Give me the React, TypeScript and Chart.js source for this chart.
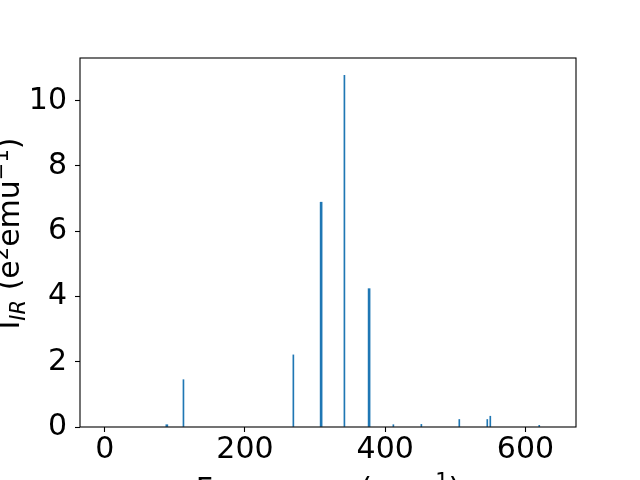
import React, { useEffect, useRef } from "react";
import { Chart, registerables } from "chart.js";

Chart.register(...registerables);

// Frequencies (cm^-1) and IR intensities
const thinFreq = [112.3, 269.0, 341.8, 411.6, 451.5, 505.6, 545.5, 549.8, 619.6];
const thinInt = [1.45, 2.21, 10.78, 0.07, 0.08, 0.23, 0.23, 0.33, 0.05];
const thickFreq = [88.6, 308.6, 377.0];
const thickInt = [0.07, 6.89, 4.24];

const xTicks = [0, 200, 400, 600];
const yTicks = [0, 2, 4, 6, 8, 10];
const xRange = [-35.2, 672];
const yRange = [0, 11.31];

const BLUE = "#1f77b4";
const FONT = "DejaVu Sans";

type Part = { text: string; size: number; italic?: boolean; dy?: number };

function drawRich(ctx: CanvasRenderingContext2D, parts: Part[], cx: number, baseline: number) {
  let total = 0;
  const widths: number[] = [];
  for (const p of parts) {
    ctx.font = `${p.italic ? "italic " : ""}${p.size}px "${FONT}"`;
    const w = ctx.measureText(p.text).width;
    widths.push(w);
    total += w;
  }
  let x = cx - total / 2;
  ctx.textAlign = "left";
  ctx.textBaseline = "alphabetic";
  parts.forEach((p, i) => {
    ctx.font = `${p.italic ? "italic " : ""}${p.size}px "${FONT}"`;
    ctx.fillText(p.text, x, baseline + (p.dy || 0));
    x += widths[i];
  });
}

const framePlugin = {
  id: "framePlugin",
  afterDraw(chart: any) {
    const { ctx, chartArea } = chart;
    const { left, top, right, bottom } = chartArea;
    ctx.save();
    ctx.strokeStyle = "#000";
    ctx.lineWidth = 1.1;
    ctx.strokeRect(left, top, right - left, bottom - top);
    ctx.fillStyle = "#000";
    // x-axis label
    drawRich(
      ctx,
      [
        { text: "Frequency (cm", size: 30 },
        { text: "\u22121", size: 21, dy: -11 },
        { text: ")", size: 30 },
      ],
      (left + right) / 2,
      499
    );
    // y-axis label (rotated)
    ctx.translate(18.5, 233.5);
    ctx.rotate(-Math.PI / 2);
    drawRich(
      ctx,
      [
        { text: "I", size: 30 },
        { text: "IR", size: 21, italic: true, dy: 6 },
        { text: " (e", size: 30 },
        { text: "2", size: 21, dy: -11 },
        { text: "emu", size: 30 },
        { text: "\u22121", size: 21, dy: -11 },
        { text: ")", size: 30 },
      ],
      0,
      0
    );
    ctx.restore();
  },
};

export default function App() {
  const ref = useRef<HTMLCanvasElement | null>(null);

  useEffect(() => {
    if (!ref.current) return;
    Chart.defaults.font.family = FONT;
    const chart = new Chart(ref.current, {
      type: "bar",
      data: {
        datasets: [
          {
            data: thinFreq.map((f, i) => ({ x: f, y: thinInt[i] })),
            backgroundColor: BLUE,
            borderWidth: 0,
            barThickness: 1,
            grouped: false,
          } as any,
          {
            data: thickFreq.map((f, i) => ({ x: f, y: thickInt[i] })),
            backgroundColor: BLUE,
            borderWidth: 0,
            barThickness: 2,
            grouped: false,
          } as any,
        ],
      },
      options: {
        animation: false,
        responsive: false,
        devicePixelRatio: 1,
        layout: { padding: { top: 58, right: 64, left: 0, bottom: 0 } },
        plugins: { legend: { display: false }, tooltip: { enabled: false }, title: { display: false } },
        scales: {
          x: {
            type: "linear",
            min: xRange[0],
            max: xRange[1],
            offset: false,
            border: { display: false },
            grid: {
              display: true,
              offset: false,
              drawOnChartArea: false,
              drawTicks: true,
              tickLength: 5,
              tickWidth: 1.1,
              tickColor: "#000",
            },
            ticks: { color: "#000", font: { size: 30, family: FONT }, padding: 0, maxRotation: 0 },
            afterBuildTicks: (scale: any) => {
              scale.ticks = xTicks.map((v) => ({ value: v }));
            },
            afterFit: (scale: any) => {
              scale.height = 53;
            },
          },
          y: {
            type: "linear",
            min: yRange[0],
            max: yRange[1],
            border: { display: false },
            grid: {
              display: true,
              offset: false,
              drawOnChartArea: false,
              drawTicks: true,
              tickLength: 5,
              tickWidth: 1.1,
              tickColor: "#000",
            },
            ticks: { color: "#000", font: { size: 30, family: FONT }, padding: 8 },
            afterBuildTicks: (scale: any) => {
              scale.ticks = yTicks.map((v) => ({ value: v }));
            },
            afterFit: (scale: any) => {
              scale.width = 80;
            },
          },
        },
      },
      plugins: [framePlugin],
    });
    return () => chart.destroy();
  }, []);

  return (
    <canvas
      ref={ref}
      width={640}
      height={480}
      style={{ position: "absolute", left: 0, top: 0, width: 640, height: 480, display: "block", background: "#fff" }}
    />
  );
}
